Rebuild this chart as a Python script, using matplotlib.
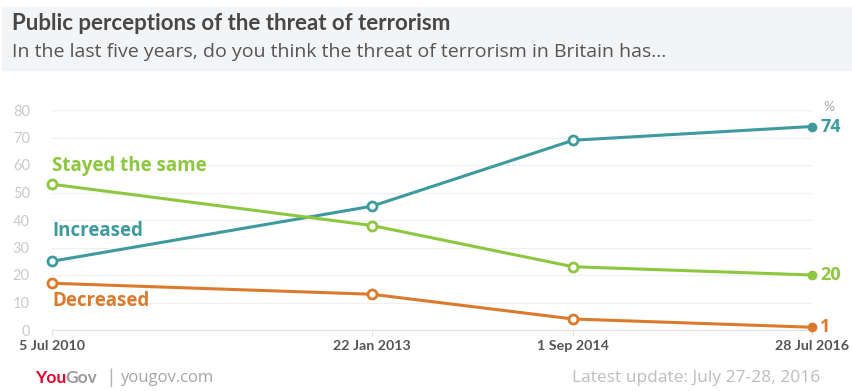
import matplotlib
matplotlib.use('Agg')
import matplotlib.pyplot as plt
import matplotlib.dates as mdates
from matplotlib.patches import Rectangle
import numpy as np
import datetime as dt

plt.rcParams['font.family'] = ['Lato', 'DejaVu Sans']
WIDE = ['Open Sans', 'DejaVu Sans']

# data
dates = [dt.date(2010, 7, 5), dt.date(2013, 1, 22), dt.date(2014, 9, 1), dt.date(2016, 7, 28)]
date_labels = ['5 Jul 2010', '22 Jan 2013', '1 Sep 2014', '28 Jul 2016']
increased = [25, 45, 69, 74]
stayed = [53, 38, 23, 20]
decreased = [17, 13, 4, 1]

series = [
    ('Increased', increased, '#3d9a9e', 36),
    ('Stayed the same', stayed, '#8dc63f', 59.5),
    ('Decreased', decreased, '#dc7a2c', 10.5),
]

fig = plt.figure(figsize=(8.52, 3.91), dpi=100)

# grey header band
fig.patches.append(Rectangle((2 / 852, 1 - 70 / 391), 850 / 852, 63 / 391,
                             transform=fig.transFigure, color='#f3f4f6', zorder=0))
fig.text(12 / 852, 1 - 24 / 391, 'Public perceptions of the threat of terrorism',
         fontsize=16, fontweight='bold', color='#474747', va='center')
fig.text(12 / 852, 1 - 52 / 391,
         'In the last five years, do you think the threat of terrorism in Britain has...',
         fontsize=14, color='#555555', va='center', family=WIDE)

ax = fig.add_axes([52 / 852, 1 - 330 / 391, 760 / 852, 220 / 391])
ax.set_ylim(0, 80)
ax.set_xlim(dates[0], dates[-1])
ax.set_yticks(np.arange(0, 81, 10))
ax.grid(axis='y', color='#f0f0f0', lw=1)
ax.set_axisbelow(True)
for s in ['top', 'right', 'left']:
    ax.spines[s].set_visible(False)
ax.spines['bottom'].set_color('#e2e2e2')
ax.tick_params(axis='y', length=0, labelsize=10.5, labelcolor='#cacaca', pad=16)
ax.set_xticks(dates)
ax.set_xticklabels(date_labels, fontsize=10.3, fontweight='bold', color='#555555')
ax.tick_params(axis='x', length=4, color='#e2e2e2', pad=3)

for name, vals, col, lab_y in series:
    ax.plot(dates, vals, color=col, lw=2.2, clip_on=False, zorder=3)
    ax.plot(dates[:-1], vals[:-1], 'o', ms=6.5, mfc='white', mec=col, mew=2,
            clip_on=False, zorder=4)
    ax.plot(dates[-1:], vals[-1:], 'o', ms=6, color=col, clip_on=False, zorder=4)
    ax.text(dates[0], lab_y, name, color=col, fontsize=13.5, fontweight='bold',
            va='center', ha='left', family=WIDE)
    ax.annotate(str(vals[-1]), (mdates.date2num(dates[-1]), vals[-1]),
                xytext=(6, 0), textcoords='offset points', color=col,
                fontsize=13, fontweight='bold', va='center', ha='left',
                annotation_clip=False, family=WIDE)

ax.annotate('%', (mdates.date2num(dates[-1]), 80), xytext=(8, 2),
            textcoords='offset points', color='#aaaaaa', fontsize=10,
            va='center', ha='left', annotation_clip=False)

# footer
fig.text(35 / 852, 1 - 378 / 391, 'You', fontsize=12.5, fontweight='bold',
         color='#e4002b', va='center')
fig.text(65 / 852, 1 - 378 / 391, 'Gov', fontsize=12.5, fontweight='bold',
         color='#9a9a9a', va='center')
fig.text(108 / 852, 1 - 378 / 391, '|', fontsize=14, color='#b0b0b0', va='center')
fig.text(120 / 852, 1 - 378 / 391, 'yougov.com', fontsize=12, color='#a5a5a5',
         va='center', family=WIDE)
fig.text(820 / 852, 1 - 378 / 391, 'Latest update: July 27-28, 2016', fontsize=12.5,
         color='#bdbdbd', va='center', ha='right', family=WIDE)

fig.savefig('out.png', dpi=100)
